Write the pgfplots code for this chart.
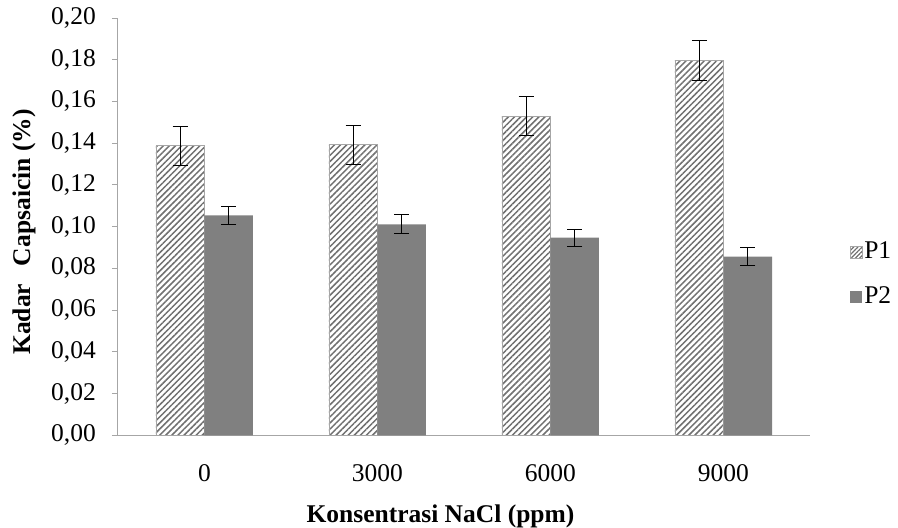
\documentclass[border=0pt]{standalone}
\usepackage{pgfplots}
\pgfplotsset{compat=1.18}
\usetikzlibrary{patterns.meta}
\usepackage{fontspec}
\setmainfont{Liberation Serif}
\definecolor{pgray}{HTML}{808080}
\definecolor{hgray}{HTML}{707070}
\definecolor{agray}{HTML}{A6A6A6}
\begin{document}
\fontsize{25.5}{30}\selectfont
\begin{tikzpicture}
\useasboundingbox (-118pt,-92.7pt) rectangle (780pt,435.3pt);
\begin{axis}[
  scale only axis,
  width=692pt, height=417.3pt,
  ybar=0pt, bar width=48.5pt,
  xmin=-0.5, xmax=3.5,
  ymin=0, ymax=0.2,
  xtick={0,1,2,3},
  xticklabels={0,3000,6000,9000},
  ytick={0,0.02,...,0.201},
  axis lines*=left,
  axis line style={agray, line width=1pt},
  tick align=outside,
  major tick length=6pt,
  ytick style={agray, line width=1pt},
  xtick style={draw=none},
  /pgf/number format/.cd, fixed, fixed zerofill, precision=2, use comma, assume math mode=true,
  /pgfplots/.cd,
  yticklabel style={anchor=east, inner sep=0pt, xshift=-16pt},
  xticklabel style={anchor=base, inner sep=0pt, yshift=-40pt},
  xlabel={\bfseries Konsentrasi NaCl (ppm)},
  xlabel style={at={(rel axis cs:0.466,-0.2094)}, anchor=base, inner sep=0pt},
  ylabel={\bfseries Kadar\hspace{0.45em} Capsaicin (\%)},
  ylabel style={at={(rel axis cs:-0.1358,0.487)}, anchor=center, inner sep=0pt},
  legend style={draw=none, fill=none, at={(rel axis cs:1.057,0.468)}, anchor=north west,
    inner sep=0pt, row sep=21pt, nodes={inner sep=1.5pt}},
  legend cell align=left,
  error bars/y dir=both, error bars/y explicit,
  error bars/error bar style={black, line width=1pt},
  error bars/error mark=|,
  error bars/error mark options={black, mark size=7.5pt, line width=1pt},
]
\addplot[draw=agray, line width=0.8pt,
  pattern={Lines[angle=45, distance=4.3pt, line width=1.5pt]}, pattern color=hgray,
  legend image code/.code={\draw[agray, line width=0.8pt, pattern={Lines[angle=45, distance=3pt, line width=1.1pt]}, pattern color=hgray] (0pt,-6pt) rectangle (12pt,6pt);}]
  coordinates {(0,0.1388) +- (0,0.0094) (1,0.1393) +- (0,0.0094) (2,0.1530) +- (0,0.0095) (3,0.1797) +- (0,0.0096)};
\addlegendentry{P1}
\addplot[draw=none, fill=pgray,
  legend image code/.code={\fill[pgray] (0pt,-6pt) rectangle (12pt,6pt);}]
  coordinates {(0,0.1054) +- (0,0.0042) (1,0.1011) +- (0,0.0045) (2,0.0947) +- (0,0.0040) (3,0.0856) +- (0,0.0042)};
\addlegendentry{P2}
\end{axis}
\end{tikzpicture}
\end{document}
